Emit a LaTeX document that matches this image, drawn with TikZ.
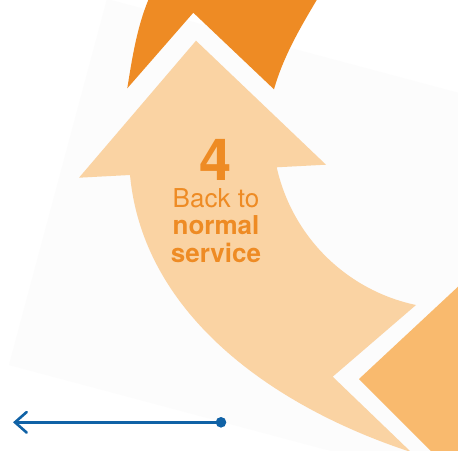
\documentclass[tikz,border=0pt]{standalone}
\usepackage{fontspec}
\setmainfont{TeX Gyre Heros}
\definecolor{darkorange}{RGB}{238,139,36}
\definecolor{lightorange}{RGB}{250,211,163}
\definecolor{midorange}{RGB}{249,186,110}
\definecolor{panelgray}{RGB}{252,252,252}
\definecolor{navblue}{RGB}{16,98,166}
\tikzset{
  labeltext/.style={text=darkorange, inner sep=0pt, anchor=base},
  navline/.style={draw=navblue, line width=2.6pt},
}
\begin{document}
\begin{tikzpicture}[x=1pt,y=-1pt]
\useasboundingbox (0,0) rectangle (458,450);
\fill[white] (0,0) rectangle (458,450);
% faint rotated panel
\fill[panelgray] (107,-1) -- (590,128) -- (492,494) -- (9,365) -- cycle;
% dark orange arrow (top)
\fill[darkorange] (127.3,88.3) -- (193.3,12.7) -- (274,89.3)
  .. controls (283.5,55.7) and (301.4,25.8) .. (316.7,0)
  -- (326,-16) -- (153,-12) -- (148.3,0)
  .. controls (136.9,27.6) and (132,58.7) .. (127.3,88.3)
  -- cycle;
% medium orange arrow (bottom right)
\fill[midorange] (359,379) -- (462,283) -- (462,462) -- (442,462) -- cycle;
% light orange arrow (main)
\fill[lightorange] (196,40.7) -- (326,164.7) -- (276.7,167.3)
  .. controls (292.2,236.6) and (346.5,290.4) .. (416,305)
  -- (332.7,376.7) -- (411,452)
  .. controls (276.1,408) and (143.3,316.4) .. (130,175)
  -- (79,177.7) -- cycle;
% text
\node[labeltext, text depth=0pt, font=\bfseries\fontsize{58}{58}\selectfont] (t4) at (216,180) {4};
\node[labeltext, font=\fontsize{26}{28}\selectfont] (tback) at (216,207) {Back to};
\node[labeltext, font=\bfseries\fontsize{26}{28}\selectfont] (tnormal) at (216,234.5) {normal};
\node[labeltext, font=\bfseries\fontsize{26}{28}\selectfont] (tservice) at (216,262) {service};
% navigation arrow
\node[circle, fill=navblue, inner sep=0pt, minimum size=10.6pt] (dot) at (221,422.3) {};
\coordinate (tip) at (15,422.3);
\draw[navline] (dot.center) -- (tip);
\draw[navline, line cap=round] (26.7,412) -- (tip) -- (26.7,432.6);
\end{tikzpicture}
\end{document}
